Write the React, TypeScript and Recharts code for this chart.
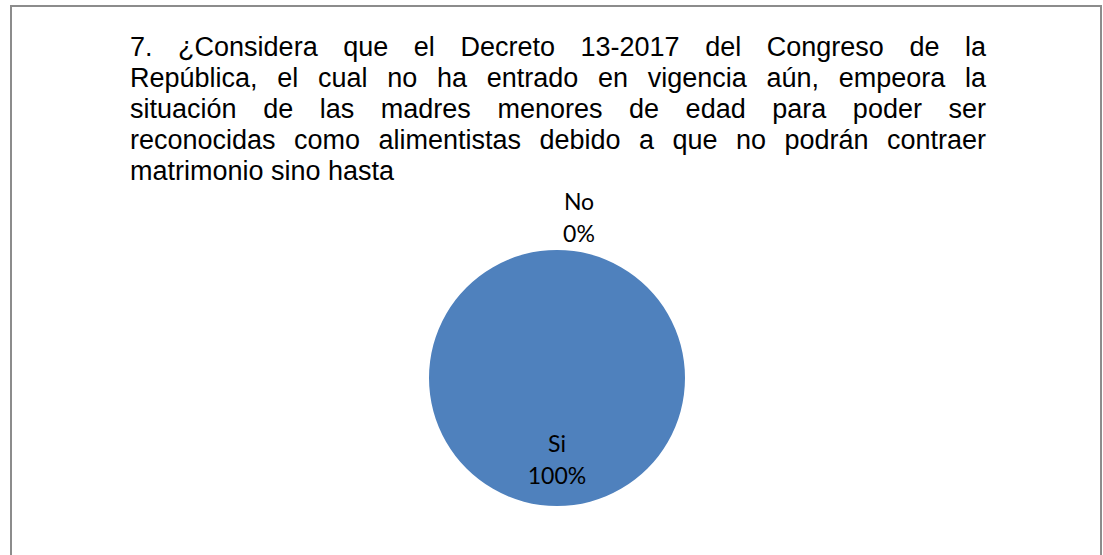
import React from "react";
import { PieChart, Pie, Cell } from "recharts";

const titleLines = [
  "7. ¿Considera que el Decreto 13-2017 del Congreso de la",
  "República, el cual no ha entrado en vigencia aún, empeora la",
  "situación de las madres menores de edad para poder ser",
  "reconocidas como alimentistas debido a que no podrán contraer",
  "matrimonio sino hasta",
];

const categories = ["Si", "No"];
const values = [100, 0];
const colors = ["#4F81BD", "#C0504D"];

const data = categories.map((name, i) => ({ name, value: values[i] }));

const RAD = Math.PI / 180;

const renderLabel = (props: any) => {
  const { cx, cy, midAngle, outerRadius, index, name, percent } = props;
  const r = index === 0 ? outerRadius * 0.64 : outerRadius * 1.25;
  const x = cx + r * Math.cos(-midAngle * RAD) + (index === 1 ? 22 : 0);
  const y = cy + r * Math.sin(-midAngle * RAD);
  return (
    <text
      x={x}
      y={y}
      textAnchor="middle"
      fill="#000"
      fontSize={23}
      fontFamily="Lato, 'Open Sans', sans-serif"
    >
      <tspan x={x} dy={-8}>
        {name}
      </tspan>
      <tspan x={x} dy={32}>
        {Math.round(percent * 100) + "%"}
      </tspan>
    </text>
  );
};

export default function App() {
  return (
    <div
      style={{
        position: "absolute",
        left: 0,
        top: 0,
        width: 1103,
        height: 555,
        overflow: "hidden",
        background: "#fff",
      }}
    >
      <div
        style={{
          position: "absolute",
          left: 10,
          top: 5,
          width: 1088,
          height: 600,
          borderLeft: "2px solid #8c8c8c",
          borderRight: "2px solid #8c8c8c",
          borderTop: "2px solid #8c8c8c",
        }}
      />
      <div style={{ position: "absolute", left: 0, top: 0 }}>
        <PieChart
          width={1103}
          height={555}
          margin={{ top: 0, right: 0, bottom: 0, left: 0 }}
        >
          <Pie
            data={data}
            dataKey="value"
            nameKey="name"
            cx={557}
            cy={378}
            outerRadius={128}
            startAngle={90}
            endAngle={-270}
            stroke="none"
            labelLine={false}
            label={renderLabel}
            isAnimationActive={false}
          >
            {data.map((d, i) => (
              <Cell key={d.name} fill={colors[i]} />
            ))}
          </Pie>
        </PieChart>
      </div>
      <div
        style={{
          position: "absolute",
          left: 130,
          top: 32,
          width: 856,
          fontFamily: "'Liberation Sans', Arial, sans-serif",
          fontSize: 27,
          lineHeight: "31px",
          color: "#000",
        }}
      >
        {titleLines.map((line, i) => (
          <div
            key={i}
            style={{
              textAlign: "justify",
              textAlignLast: i < titleLines.length - 1 ? "justify" : "left",
              whiteSpace: "nowrap",
            }}
          >
            {line}
          </div>
        ))}
      </div>
    </div>
  );
}
